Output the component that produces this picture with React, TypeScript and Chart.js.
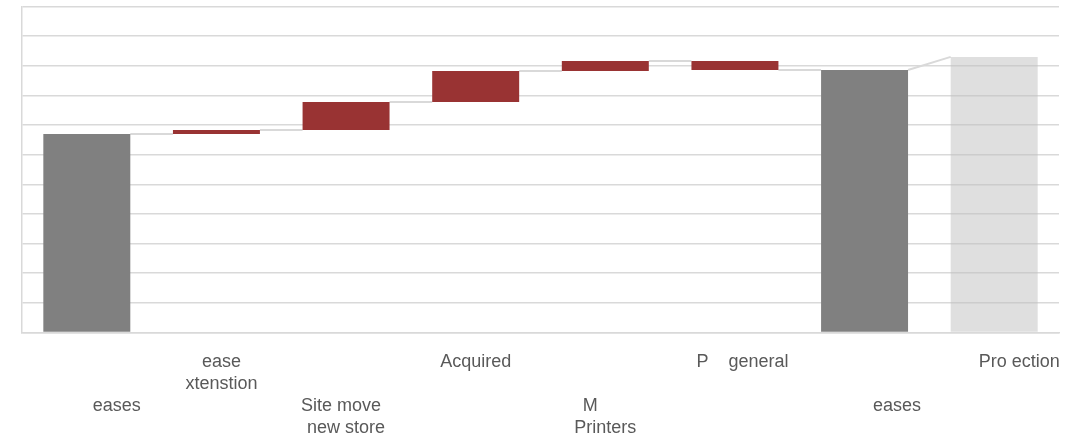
import React, { useEffect, useRef } from "react";
import { Chart, registerables } from "chart.js";

Chart.register(...registerables);

// Category labels, one array entry per tick line (blank lines stagger the rows)
const categoryLabels: string[][] = [
  ["", "", "            eases"],
  ["  ease", "  xtenstion"],
  ["", "", "Site move  ", "new store"],
  ["Acquired"],
  ["", "", "M      ", "Printers"],
  ["   P    general"],
  ["", "", "             eases"],
  ["          Pro ection"],
];

// Floating bar ranges: where each bar starts and ends on the value axis
const barStart: number[] = [0, 67.0, 68.3, 77.8, 88.2, 91.6, 0, 0];
const barEnd: number[] = [67.0, 68.3, 77.8, 88.2, 91.6, 88.6, 88.6, 93.0];

// Role of each bar in the bridge
const barKind: string[] = ["total", "change", "change", "change", "change", "change", "total", "projection"];

const kindColors: Record<string, string> = {
  total: "#808080",
  change: "#993333",
  projection: "rgba(191,191,191,0.5)",
};

const axisMin = 0;
const axisMax = 110;
const axisStep = 10;

const gridColor = "#d9d9d9";
const labelColor = "#595959";

// Level at which a connector leaves / joins a bar
const exitLevel = (i: number) => barEnd[i];
const entryLevel = (i: number) => (barKind[i] === "change" ? barStart[i] : barEnd[i]);

const connectorPlugin = {
  id: "bridgeConnectors",
  beforeDatasetsDraw(chart: any) {
    const meta = chart.getDatasetMeta(0);
    const yScale = chart.scales.y;
    const ctx = chart.ctx;
    ctx.save();
    ctx.strokeStyle = gridColor;
    ctx.lineWidth = 2;
    for (let i = 0; i < meta.data.length - 1; i++) {
      const a = meta.data[i];
      const b = meta.data[i + 1];
      const x1 = a.x + a.width / 2;
      const x2 = b.x - b.width / 2;
      const y1 = yScale.getPixelForValue(exitLevel(i));
      const y2 = yScale.getPixelForValue(entryLevel(i + 1));
      ctx.beginPath();
      ctx.moveTo(x1, y1);
      ctx.lineTo(x2, y2);
      ctx.stroke();
    }
    ctx.restore();
  },
};

export default function App() {
  const canvasRef = useRef<HTMLCanvasElement | null>(null);

  useEffect(() => {
    if (!canvasRef.current) return;
    const chart = new Chart(canvasRef.current, {
      type: "bar",
      data: {
        labels: categoryLabels,
        datasets: [
          {
            data: barStart.map((s, i) => [s, barEnd[i]]) as any,
            backgroundColor: barKind.map((k) => kindColors[k]),
            borderWidth: 0,
            categoryPercentage: 1,
            barPercentage: 0.671,
          },
        ],
      },
      options: {
        responsive: false,
        animation: false,
        layout: { padding: { left: 22, right: 25, top: 6.5, bottom: 0 } },
        plugins: {
          legend: { display: false },
          tooltip: { enabled: false },
        },
        scales: {
          x: {
            grid: { display: false, drawTicks: false },
            border: { display: true, color: gridColor, width: 1.5 },
            ticks: {
              autoSkip: false,
              maxRotation: 0,
              minRotation: 0,
              padding: 18.5,
              color: labelColor,
              font: { family: "'Liberation Sans', Arial, sans-serif", size: 18, lineHeight: 22 / 18 },
            },
            afterFit(scale: any) {
              scale.height = 104.5;
            },
          },
          y: {
            min: axisMin,
            max: axisMax,
            ticks: { display: false, stepSize: axisStep },
            grid: { color: gridColor, lineWidth: 1.5, drawTicks: false },
            border: { display: true, color: gridColor, width: 1.5 },
          },
        },
      },
      plugins: [connectorPlugin],
    });
    return () => chart.destroy();
  }, []);

  return (
    <div style={{ position: "fixed", left: 0, top: 0, width: 1084, height: 437, background: "#ffffff" }}>
      <canvas ref={canvasRef} width={1084} height={437} style={{ display: "block" }} />
    </div>
  );
}
